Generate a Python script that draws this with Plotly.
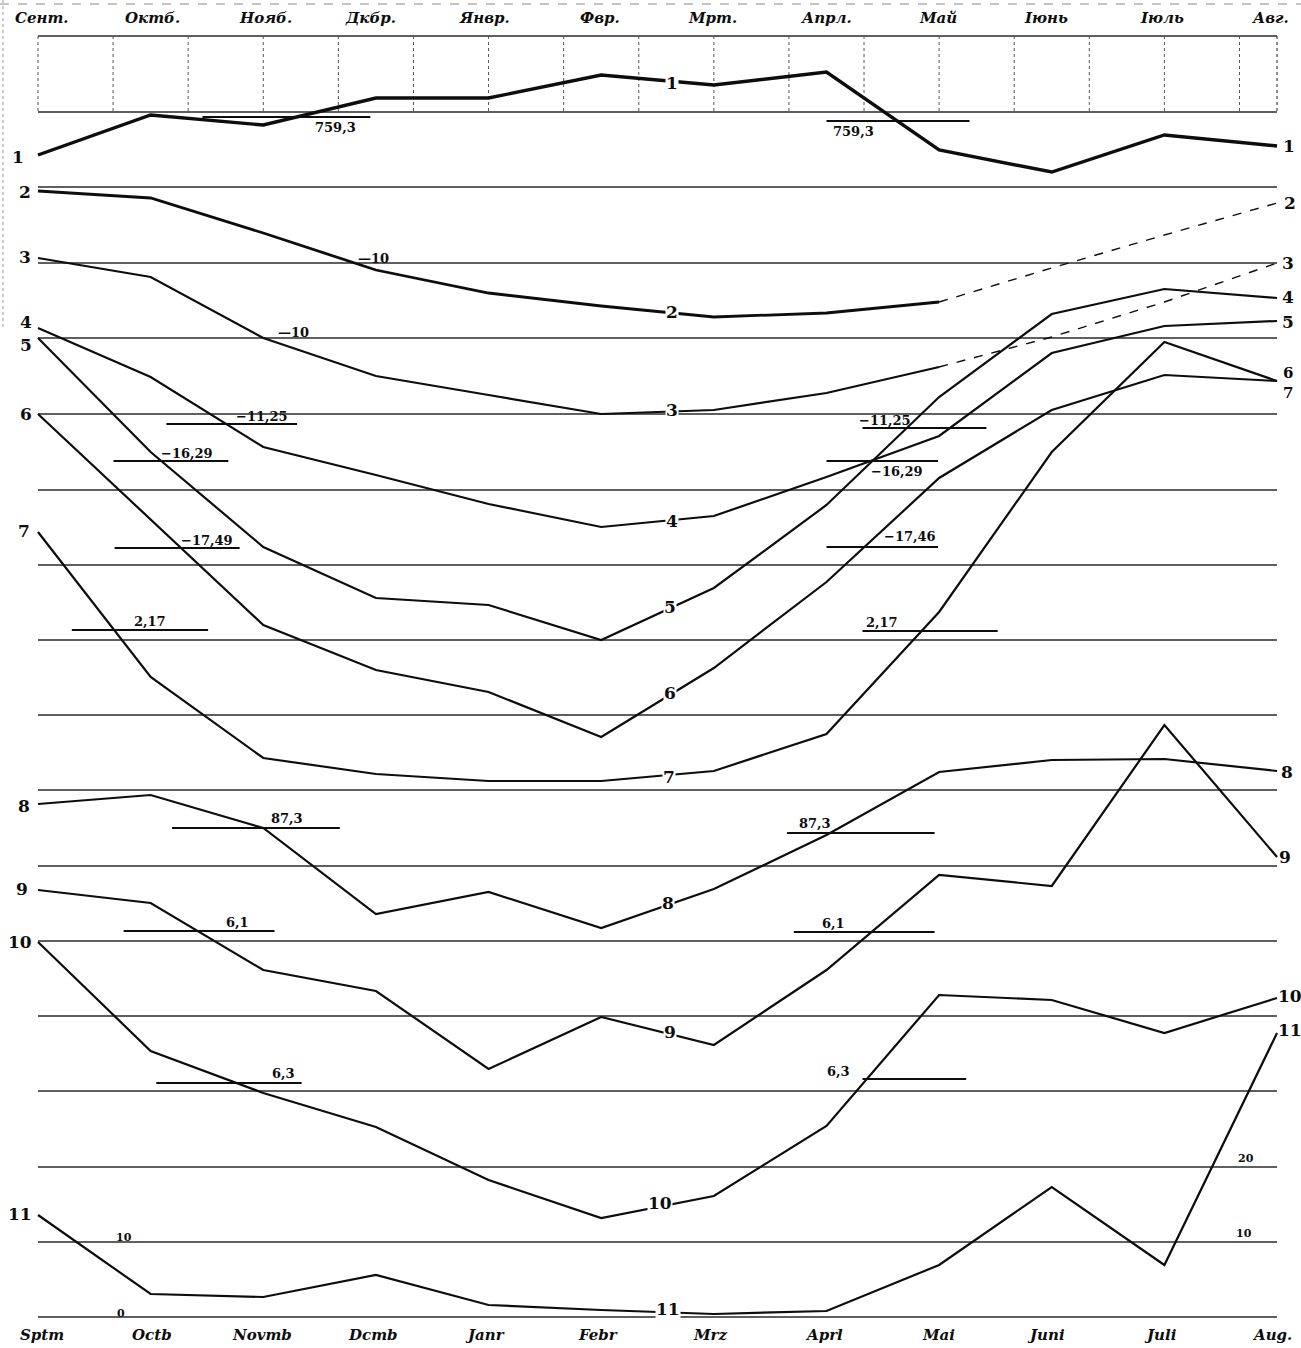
import plotly.graph_objects as go

# ---------------- data (vertical unit = chart row position) -------------
month_idx = list(range(12))
months_top = ["Сент.", "Октб.", "Нояб.", "Дкбр.", "Янвр.", "Фвр.", "Мрт.", "Апрл.", "Май", "Іюнь", "Іюль", "Авг."]
months_bottom = ["Sptm", "Octb", "Novmb", "Dcmb", "Janr", "Febr", "Mrz", "Aprl", "Mai", "Juni", "Juli", "Aug."]

c1 = [155, 115, 125, 98, 98, 75, 85, 72, 150, 172, 135, 146]
c2 = [191, 198, 233, 270, 293, 306, 317, 313, 302, 268, 235, 203]
c3 = [258, 277, 338, 376, 395, 414, 410, 393, 367, 337, 302, 263]
c4 = [328, 377, 447, 475, 504, 527, 516, 477, 436, 353, 326, 321]
c5 = [338, 452, 547, 598, 605, 640, 588, 505, 397, 314, 289, 298]
c6 = [414, 520, 625, 670, 692, 737, 668, 582, 478, 410, 375, 381]
c7 = [532, 677, 758, 774, 781, 781, 771, 734, 612, 452, 342, 381]
c8 = [804, 795, 828, 914, 892, 928, 889, 835, 772, 760, 759, 771]
c9 = [890, 903, 970, 991, 1069, 1017, 1045, 970, 875, 886, 725, 857]
c10 = [942, 1051, 1093, 1127, 1180, 1218, 1196, 1126, 995, 1000, 1033, 998]
c11 = [1215, 1294, 1297, 1275, 1305, 1310, 1314, 1311, 1265, 1187, 1265, 1033]

# mean-value reference segments
mean_labels = ["759,3", "759,3", "−11,25", "−11,25", "−16,29", "−16,29", "−17,49", "−17,46",
               "2,17", "2,17", "87,3", "87,3", "6,1", "6,1", "6,3", "6,3"]
mean_levels = [117, 121, 424, 428, 461, 461, 548, 547, 630, 631, 828, 833, 931, 932, 1083, 1079]
mean_x0 = [1.46, 7.00, 1.14, 7.32, 0.67, 7.00, 0.68, 7.00, 0.30, 7.32, 1.19, 6.65, 0.76, 6.71, 1.05, 7.32]
mean_x1 = [2.95, 8.27, 2.30, 8.42, 1.69, 7.99, 1.79, 7.99, 1.51, 8.52, 2.68, 7.96, 2.10, 7.96, 2.34, 8.24]

grid_rows = [36, 112, 187, 263, 338, 414, 490, 565, 640, 715, 790, 866, 941, 1016, 1091, 1167, 1242, 1317]

# ---------------- layout helpers ----------------
W, H = 1301, 1348
X0PX, STEP = 38.0, 112.64


def mx(px):
    return (px - X0PX) / STEP


XR = [mx(0), mx(W)]
INK = "#0d0d0d"
SERIF = "DejaVu Serif"

fig = go.Figure()


def line(xs, ys, width=2.2, dash="solid"):
    fig.add_trace(go.Scatter(x=xs, y=ys, mode="lines", line=dict(color=INK, width=width, dash=dash),
                             hoverinfo="skip", showlegend=False, cliponaxis=False))


# curves
line(month_idx, c1, 3.4)
line(month_idx[:9], c2[:9], 2.8)
line(month_idx[8:], c2[8:], 1.4, "dash")
line(month_idx[:9], c3[:9], 2.2)
line(month_idx[8:], c3[8:], 1.4, "dash")
for c in (c4, c5, c6, c7, c8, c9, c10, c11):
    line(month_idx, c, 2.2)

# mean segments
for x0, x1, lv in zip(mean_x0, mean_x1, mean_levels):
    line([x0, x1], [lv, lv], 2.2)

shapes = []
# horizontal rulings
for r in grid_rows:
    shapes.append(dict(type="line", xref="x", yref="y", x0=0, x1=11, y0=r, y1=r,
                       line=dict(color="#2a2a2a", width=1.3), layer="below"))
# vertical rulings in the top band
k = 0
while k * 2 / 3 <= 11.0:
    shapes.append(dict(type="line", xref="x", yref="y", x0=k * 2 / 3, x1=k * 2 / 3, y0=36, y1=112,
                       line=dict(color="#555555", width=1, dash="dot"), layer="below"))
    k += 1
shapes.append(dict(type="line", xref="x", yref="y", x0=11, x1=11, y0=36, y1=112,
                   line=dict(color="#444444", width=1.2, dash="dot"), layer="below"))
# scan border at top
shapes.append(dict(type="line", xref="x", yref="y", x0=XR[0], x1=XR[1], y0=4, y1=4,
                   line=dict(color="#888888", width=1, dash="dash"), layer="below"))
shapes.append(dict(type="line", xref="x", yref="y", x0=mx(3), x1=mx(3), y0=0, y1=330,
                   line=dict(color="#999999", width=1, dash="dot"), layer="below"))

ann = []


def txt(px, py, s, size=18, bg=False, italic=False, anchor="center", family=SERIF):
    ann.append(dict(x=mx(px), y=py, xref="x", yref="y", text=s, showarrow=False, xanchor=anchor,
                    yanchor="middle",
                    font=dict(family=family, size=size, color=INK, weight="bold",
                              style="italic" if italic else "normal"),
                    bgcolor="white" if bg else None, borderpad=0))


# month labels
top_px = [42, 152, 265, 370, 484, 600, 712, 826, 938, 1046, 1162, 1270]
bot_px = [42, 152, 262, 373, 485, 598, 710, 824, 938, 1046, 1160, 1272]
for p, s in zip(top_px, months_top):
    txt(p, 18, s, 15, italic=True)
for p, s in zip(bot_px, months_bottom):
    txt(p, 1335, s, 15, italic=True)

# curve numbers: left, middle, right
left_lab = [(18, 157, "1"), (25, 192, "2"), (25, 257, "3"), (26, 322, "4"), (26, 345, "5"), (26, 414, "6"),
            (24, 531, "7"), (24, 806, "8"), (22, 889, "9"), (20, 942, "10"), (20, 1214, "11")]
mid_lab = [(672, 83, "1"), (672, 312, "2"), (672, 410, "3"), (672, 521, "4"), (670, 607, "5"),
           (670, 693, "6"), (669, 777, "7"), (668, 903, "8"), (670, 1032, "9"), (660, 1203, "10"),
           (668, 1309, "11")]
right_lab = [(1289, 146, "1"), (1290, 203, "2"), (1288, 263, "3"), (1288, 297, "4"), (1288, 322, "5"),
             (1288, 373, "6"), (1288, 393, "7"), (1287, 772, "8"), (1285, 857, "9"), (1290, 996, "10"),
             (1290, 1030, "11")]
for p, q, s in left_lab:
    txt(p, q, s, 17)
for p, q, s in mid_lab:
    txt(p, q, s, 17, bg=True)
for p, q, s in right_lab:
    txt(p, q, s, 17 if s not in ("6", "7") else 15)

# mean value texts
mean_text_pos = [(335, 127), (853, 131), (262, 416), (885, 420), (187, 453), (897, 471), (207, 540),
                 (910, 536), (150, 621), (882, 622), (287, 818), (815, 823), (237, 922), (833, 923),
                 (283, 1073), (838, 1071)]
for (p, q), s in zip(mean_text_pos, mean_labels):
    txt(p, q, s, 13)
txt(373, 258, "—10", 13)
txt(293, 332, "—10", 13)

# scale figures for curve 11
txt(124, 1237, "10", 11)
txt(121, 1313, "0", 11)
txt(1246, 1158, "20", 11)
txt(1244, 1233, "10", 11)

fig.update_layout(
    width=W, height=H,
    margin=dict(l=0, r=0, t=0, b=0),
    paper_bgcolor="white", plot_bgcolor="white",
    showlegend=False,
    xaxis=dict(range=XR, visible=False, fixedrange=True),
    yaxis=dict(range=[H, 0], visible=False, fixedrange=True),
    shapes=shapes,
    annotations=ann,
)

fig.write_html("out.html", config={"displayModeBar": False},
               post_script="document.body.style.margin='0';")
